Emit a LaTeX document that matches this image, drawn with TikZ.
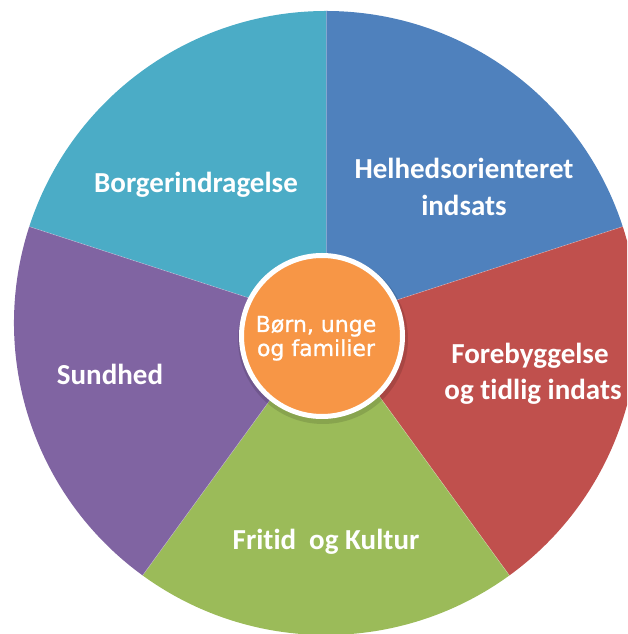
\documentclass[tikz,border=0pt]{standalone}
\usepackage{fontspec}
\setmainfont[Ligatures=NoCommon]{Carlito}
\newfontfamily\centerfont[FakeBold=1]{DejaVu Sans}
\definecolor{cCyan}{HTML}{4BACC6}
\definecolor{cBlue}{HTML}{4F81BD}
\definecolor{cRed}{HTML}{C0504D}
\definecolor{cGreen}{HTML}{9BBB59}
\definecolor{cPurple}{HTML}{8064A2}
\definecolor{cOrange}{HTML}{F79646}
\tikzset{
  lbl/.style={text=white, font=\bfseries\fontsize{29}{34}\selectfont, anchor=base, inner sep=0pt},
  clbl/.style={text=white, font=\centerfont\fontsize{22}{23}\selectfont, anchor=base, inner sep=0pt},
}
\begin{document}
\begin{tikzpicture}[x=1pt,y=1pt]
\useasboundingbox (0,0) rectangle (627,634);
\clip (0,0) rectangle (627,634);
\coordinate (C) at (326,311);
\def\R{312}
\fill[cCyan] (C) -- ++(90:\R) arc[start angle=90,end angle=162,radius=\R] -- cycle;
\fill[cBlue] (C) -- ++(18:\R) arc[start angle=18,end angle=90,radius=\R] -- cycle;
\fill[cRed] (C) -- ++(-54:\R) arc[start angle=-54,end angle=18,radius=\R] -- cycle;
\fill[cGreen] (C) -- ++(-126:\R) arc[start angle=-126,end angle=-54,radius=\R] -- cycle;
\fill[cPurple] (C) -- ++(162:\R) arc[start angle=162,end angle=234,radius=\R] -- cycle;
\foreach \a in {90,18,-54,-126,162} \draw[white, opacity=0.3, line width=0.6pt] (C) -- ++(\a:\R);
% center circle
\fill[black, opacity=0.12] (323,295) circle[radius=85];
\node[circle, fill=cOrange, draw=white, line width=5pt, minimum size=161pt, inner sep=0pt] (hub) at (322,298) {};
\node[clbl] (h1) at (316,302) {Børn, unge};
\node[clbl] (h2) at (316,278) {og familier};
% labels
\node[lbl] (l1) at (196,441) {Borgerindragelse};
\node[lbl] (l2a) at (464,455) {Helhedsorienteret};
\node[lbl] (l2b) at (464,418) {indsats};
\node[lbl] (l3a) at (530,270) {Forebyggelse};
\node[lbl] (l3b) at (533,234) {og tidlig indats};
\node[lbl] (l4) at (326,84) {Fritid\hspace{0.45em}og Kultur};
\node[lbl] (l5) at (110,249) {Sundhed};
\end{tikzpicture}
\end{document}
